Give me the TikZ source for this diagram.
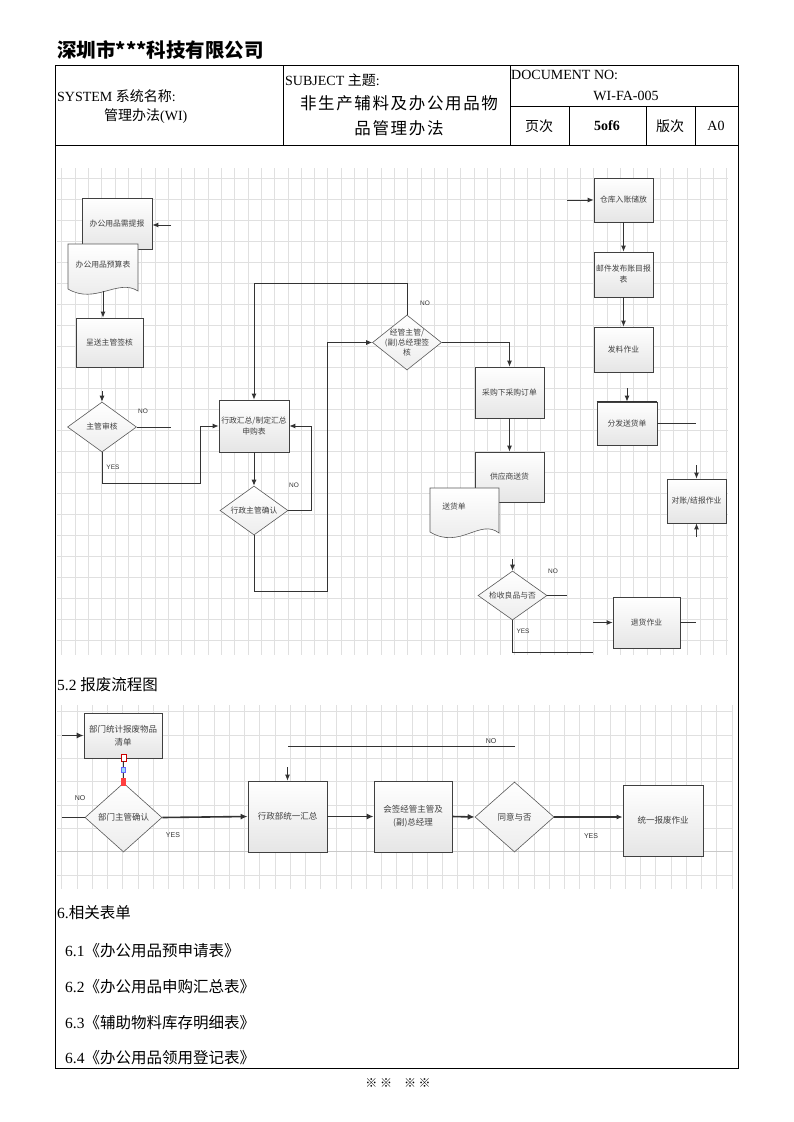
\documentclass[tikz,border=0pt]{standalone}
\usepackage{fontspec}
\setmainfont{Liberation Serif}
\setsansfont{Liberation Sans}
\newfontfamily\cjk{Noto Sans CJK SC}
\newfontfamily\cjkw{Noto Sans CJK SC}[LetterSpace=10]
\usetikzlibrary{arrows.meta,shapes.geometric,shadows}
\newcommand\zh[1]{{\cjk #1}}
\begin{document}
\begin{tikzpicture}[x=1pt,y=-1pt,
 gridl/.style={draw=gray!24,line width=0.6pt},
 frame/.style={draw=black,line width=0.8pt},
 fbox/.style={draw=black!75,line width=0.7pt,rectangle,top color=white,bottom color=gray!20,
   drop shadow={shadow xshift=1.2pt,shadow yshift=-1.2pt,fill=black!45},
   text=black!75,align=center,inner sep=1pt,font=\cjk\fontsize{7.8}{11}\selectfont},
 bbox/.style={fbox,font=\cjk\fontsize{8.5}{13}\selectfont},
 fdia/.style={diamond,draw=black!65,line width=0.6pt,top color=white,bottom color=gray!14,inner sep=0pt},
 lab/.style={text=black!75,align=center,inner sep=0pt,font=\cjk\fontsize{7.8}{11}\selectfont},
 blab/.style={lab,font=\cjk\fontsize{8.5}{12}\selectfont},
 docs/.style={draw=black!65,line width=0.6pt,top color=white,bottom color=gray!18},
 arr/.style={draw=black!80,line width=0.9pt,-{Latex[length=6pt,width=5pt]}},
 ln/.style={draw=black!80,line width=0.9pt},
 arrb/.style={draw=black!80,line width=1.6pt,-{Latex[length=7pt,width=6pt]}},
 lnb/.style={draw=black!80,line width=1.6pt},
 yn/.style={font=\sffamily\fontsize{6.5}{7}\selectfont,text=black!80,inner sep=0pt},
 htxt/.style={inner sep=0pt,font=\fontsize{14}{16}\selectfont},
 btxt/.style={inner sep=0pt,anchor=west,font=\fontsize{15.5}{17}\selectfont},
]
\useasboundingbox (0,0) rectangle (793,1122);
\fill[white] (0,0) rectangle (793,1122);

% ---------- header ----------
\node[anchor=west,inner sep=0pt,font=\cjk\bfseries\fontsize{19.5}{21}\selectfont] (title) at (57,50) {深圳市***科技有限公司};
\draw[frame] (55,65) rectangle (738,1068);
\draw[frame] (55,145) -- (738,145);
\draw[frame] (283,65) -- (283,145);
\draw[frame] (510,65) -- (510,145);
\draw[frame] (510,106) -- (738,106);
\draw[frame] (569,106) -- (569,145);
\draw[frame] (646,106) -- (646,145);
\draw[frame] (695,106) -- (695,145);
\node[htxt,anchor=west] (sys) at (57,96) {SYSTEM \zh{系统名称}:};
\node[htxt,anchor=west] (sysn) at (104,116) {\zh{管理办法}(WI)};
\node[htxt,anchor=west] (subj) at (285,80) {SUBJECT \zh{主题}:};
\node[inner sep=0pt,font=\cjkw\fontsize{16.5}{18}\selectfont] (subt1) at (399,103) {非生产辅料及办公用品物};
\node[inner sep=0pt,font=\cjkw\fontsize{16.5}{18}\selectfont] (subt2) at (399,128) {品管理办法};
\node[htxt,anchor=west] (docno) at (511,75) {DOCUMENT NO:};
\node[htxt] (docnum) at (626,96) {WI-FA-005};
\node[htxt] (pg) at (539,126) {\zh{页次}};
\node[htxt] (pgn) at (607,126) {\textbf{5of6}};
\node[htxt] (ver) at (670,126) {\zh{版次}};
\node[htxt] (vern) at (716,126) {A0};

% ---------- top grid ----------
\foreach \i in {0,...,50} \draw[gridl] ({61.7+13.3*\i},168) -- ({61.7+13.3*\i},655);
\foreach \j in {0,...,22} \draw[gridl] (57,{178.3+21*\j}) -- (728,{178.3+21*\j});

% ---------- top flowchart: left ----------
\node[fbox,minimum width=70pt,minimum height=51pt] (n1) at (117,223.5) {办公用品需提报};
\coordinate (n1in) at (171,225);
\draw[arr] (n1in) -- (n1.east |- n1in);
\draw[docs] (68,244) -- (138,244) -- (138,291) .. controls (118,278) and (95,305) .. (68,289) -- cycle;
\node[lab] (d1) at (103,265) {办公用品预算表};
\coordinate (d1b) at (103,291);
\node[fbox,minimum width=67pt,minimum height=49pt] (n2) at (109.5,342.5) {呈送主管签核};
\draw[arr] (d1b) -- (d1b |- n2.north);

\node[fdia,minimum width=69pt,minimum height=50pt,label={[lab]center:主管审核}] (dia1) at (102,427) {};
\coordinate (a1) at (102,391);
\draw[arr] (a1) -- (dia1.north);
\node[yn] (no1) at (143,411) {NO};
\coordinate (no1e) at (171,427);
\draw[ln] (dia1.east) -- (no1e);
\node[yn] (yes1) at (113,467) {YES};

\node[fbox,minimum width=70pt,minimum height=52pt] (n3) at (254,426) {行政汇总/制定汇总\\申购表};
\draw[arr] (dia1.south) -- (102,483) -- (200,483) |- (n3.west);

\node[fdia,minimum width=68pt,minimum height=49pt,label={[lab]center:行政主管确认}] (dia2) at (254,510.5) {};
\draw[arr] (n3.south) -- (dia2.north);
\node[yn] (no2) at (294,485) {NO};
\draw[arr] (dia2.east) -- (311,510.5) |- (n3.east);

\node[fdia,minimum width=69pt,minimum height=55pt,label={[lab,font=\cjk\fontsize{7.8}{10}\selectfont]center:经管主管/\\(副)总经理签\\核}] (dia3) at (407,342.5) {};
\draw[arr] (dia2.south) -- (254,591) -- (327,591) |- (dia3.west);
\node[yn] (no3) at (425,303) {NO};
\draw[arr] (dia3.north) |- (254,283) -- (n3.north);

% ---------- top flowchart: middle ----------
\node[fbox,minimum width=69pt,minimum height=51pt] (n4) at (509.5,392.5) {采购下采购订单};
\draw[arr] (dia3.east) -| (n4.north);
\node[fbox,minimum width=69pt,minimum height=50pt] (n5) at (509.5,477) {供应商送货};
\draw[arr] (n4.south) -- (n5.north);
\draw[docs] (430,488) -- (499,488) -- (499,533) .. controls (480,518) and (460,550) .. (430,532) -- cycle;
\node[lab] (d2) at (454,507) {送货单};

\node[fdia,minimum width=69pt,minimum height=49pt,label={[lab]center:检收良品与否}] (dia4) at (512.5,595.5) {};
\coordinate (a4) at (512.5,559);
\draw[arr] (a4) -- (dia4.north);
\node[yn] (no4) at (553,571) {NO};
\coordinate (no4e) at (567,595.5);
\draw[ln] (dia4.east) -- (no4e);
\node[yn] (yes4) at (523,631) {YES};
\coordinate (y4e) at (593,652);
\draw[ln] (dia4.south) |- (y4e);

\node[fbox,minimum width=67pt,minimum height=51pt] (n6) at (646.5,622.5) {退货作业};
\coordinate (n6in) at (593,622.5);
\draw[arr] (n6in) -- (n6.west);
\coordinate (n6o) at (696,622.5);
\draw[ln] (n6.east) -- (n6o);

% ---------- top flowchart: right ----------
\node[fbox,minimum width=59pt,minimum height=44pt] (n7) at (623.5,200) {仓库入账储放};
\coordinate (n7in) at (567,200);
\draw[arr] (n7in) -- (n7.west);
\node[fbox,minimum width=59pt,minimum height=45pt] (n8) at (623.5,274.5) {邮件发布账目报\\表};
\draw[arr] (n7.south) -- (n8.north);
\node[fbox,minimum width=59pt,minimum height=45pt] (n9) at (623.5,349.5) {发料作业};
\draw[arr] (n8.south) -- (n9.north);
\node[fbox,minimum width=60pt,minimum height=43pt] (n10) at (627,423.5) {分发送货单};
\draw[line width=1.4pt,black!80] (n10.north west) -- (n10.north east);
\coordinate (a10) at (627,388);
\draw[arr] (a10) -- (n10.north);
\coordinate (n10o) at (696,423.5);
\draw[ln] (n10.east) -- (n10o);
\node[fbox,minimum width=59pt,minimum height=44pt] (n11) at (696.5,501) {对账/结报作业};
\coordinate (a11) at (696.5,465);
\draw[arr] (a11) -- (n11.north);
\coordinate (a11b) at (696.5,537);
\draw[arr] (a11b) -- (n11.south);

% ---------- section 5.2 ----------
\node[btxt] (sec52) at (57,685) {5.2 \zh{报废流程图}};

\foreach \i in {0,...,44} \draw[gridl] ({61.7+15.23*\i},705) -- ({61.7+15.23*\i},889);
\foreach \j in {0,...,7} \draw[gridl] (57,{711.7+23.33*\j}) -- (733,{711.7+23.33*\j});
\draw[draw=gray!42,line width=1pt] (57,851.7) -- (733,851.7);

\node[bbox,minimum width=78pt,minimum height=45pt] (b1) at (123,735.5) {部门统计报废物品\\清单};
\coordinate (b1in) at (62,735.5);
\draw[arrb] (b1in) -- (b1.west);
\node[fdia,minimum width=77pt,minimum height=69pt,label={[blab]center:部门主管确认}] (b2) at (123.5,817.5) {};
% connection handles
\draw[red!80!black,line width=0.6pt,fill=white] (121,754.5) rectangle (126,761);
\draw[black!80,line width=1.6pt] (123.5,761) -- (123.5,778);
\draw[blue!60,line width=0.6pt,fill=cyan!40] (121.5,767) rectangle (125.5,772.5);
\fill[red!75] (121,778) rectangle (126,786);
\node[yn,font=\sffamily\fontsize{7}{8}\selectfont] (no5) at (80,798) {NO};
\coordinate (b2in) at (62,817.5);
\draw[lnb] (b2in) -- (b2.west);
\node[yn,font=\sffamily\fontsize{7}{8}\selectfont] (yes5) at (173,835) {YES};

\node[bbox,minimum width=79pt,minimum height=71pt] (b3) at (287.5,816.5) {行政部统一汇总};
\draw[arrb] (b2.east) -- (b3.west);
\coordinate (nol) at (515,746);
\coordinate (nor) at (288,746);
\draw[draw=black!80,line width=0.8pt] (nol) -- (nor);
\node[yn,font=\sffamily\fontsize{7}{8}\selectfont] (no6) at (491,741) {NO};
\coordinate (a3) at (287.5,767);
\draw[arr] (a3) -- (b3.north);

\node[bbox,minimum width=78pt,minimum height=71pt] (b4) at (413,816.5) {会签经管主管及\\(副)总经理};
\draw[arrb] (b3.east) -- (b4.west);
\node[fdia,minimum width=79pt,minimum height=70pt,label={[blab]center:同意与否}] (b5) at (514.5,817) {};
\draw[arrb] (b4.east) -- (b5.west);
\node[bbox,minimum width=80pt,minimum height=71pt] (b6) at (663,820.5) {统一报废作业};
\draw[arr,line width=1.2pt] (b5.east) -- (b5.east -| b6.west);
\node[yn,font=\sffamily\fontsize{7}{8}\selectfont] (yes6) at (591,836) {YES};

% ---------- section 6 ----------
\node[btxt] (sec6) at (57,913) {6.\zh{相关表单}};
\node[btxt] (s61) at (65,951) {6.1\zh{《办公用品预申请表》}};
\node[btxt] (s62) at (65,987) {6.2\zh{《办公用品申购汇总表》}};
\node[btxt] (s63) at (65,1022.5) {6.3\zh{《辅助物料库存明细表》}};
\node[btxt] (s64) at (65,1058) {6.4\zh{《办公用品领用登记表》}};
\node[inner sep=0pt,font=\cjk\fontsize{12}{14}\selectfont] (foot) at (398,1083) {※\ ※\quad ※\ ※};
\end{tikzpicture}
\end{document}
